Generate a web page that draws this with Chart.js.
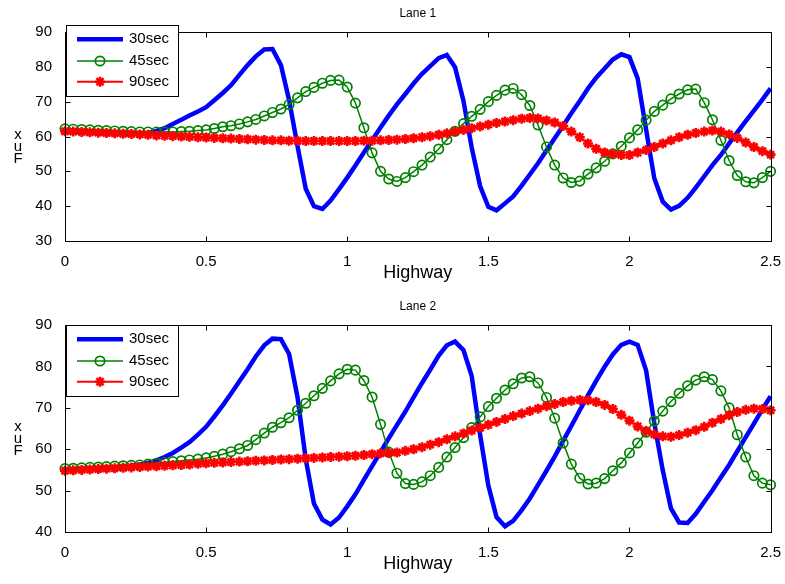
<!DOCTYPE html>
<html>
<head>
<meta charset="utf-8">
<script src="https://cdn.jsdelivr.net/npm/chart.js@4.4.0/dist/chart.umd.min.js"></script>
<style>
  html, body { margin: 0; padding: 0; background: #fff; }
  #wrap { position: relative; width: 785px; height: 584px; }
  canvas { position: absolute; left: 0; }
</style>
</head>
<body>
<div id="wrap">
  <canvas id="lane1Chart" width="785" height="292" style="top:0"></canvas>
  <canvas id="lane2Chart" width="785" height="292" style="top:292px"></canvas>
</div>
<script>
// distance along the highway (shared by all series)
const xs = [0, 0.029, 0.059, 0.088, 0.118, 0.147, 0.176, 0.206, 0.235, 0.265,
  0.294, 0.324, 0.353, 0.382, 0.412, 0.441, 0.471, 0.5, 0.529, 0.559,
  0.588, 0.618, 0.647, 0.676, 0.706, 0.735, 0.765, 0.794, 0.824, 0.853,
  0.882, 0.912, 0.941, 0.971, 1.0, 1.029, 1.059, 1.088, 1.118, 1.147,
  1.176, 1.206, 1.235, 1.265, 1.294, 1.324, 1.353, 1.382, 1.412, 1.441,
  1.471, 1.5, 1.529, 1.559, 1.588, 1.618, 1.647, 1.676, 1.706, 1.735,
  1.765, 1.794, 1.824, 1.853, 1.882, 1.912, 1.941, 1.971, 2.0, 2.029,
  2.059, 2.088, 2.118, 2.147, 2.176, 2.206, 2.235, 2.265, 2.294, 2.324,
  2.353, 2.382, 2.412, 2.441, 2.471, 2.5];

const seriesNames = ['30sec', '45sec', '90sec'];

// Lane 1
const lane1Speed30 = [61.5, 61.4, 61.3, 61.2, 61.1, 61.0, 60.9, 60.8, 60.8, 60.8,
  61.0, 61.6, 62.4, 63.6, 64.8, 66.0, 67.2, 68.4, 70.4, 72.5,
  74.7, 77.7, 80.5, 83.0, 85.0, 85.1, 80.5, 70.5, 57.2, 45.0,
  40.0, 39.2, 41.6, 44.9, 48.2, 51.7, 55.4, 58.9, 62.6, 66.0,
  69.2, 72.2, 75.2, 78.0, 80.2, 82.5, 83.4, 79.9, 70.2, 56.8,
  45.7, 39.8, 38.8, 40.8, 42.8, 45.9, 49.1, 52.3, 56.0, 59.5,
  63.1, 66.7, 70.2, 73.8, 76.9, 79.5, 82.1, 83.6, 82.8, 76.7,
  62.0, 48.0, 41.3, 39.0, 40.1, 42.4, 45.3, 48.6, 51.8, 54.7,
  58.0, 61.2, 64.4, 67.4, 70.6, 73.8];
const lane1Speed45 = [62.2, 62.1, 62.0, 61.9, 61.8, 61.7, 61.6, 61.5, 61.4, 61.3,
  61.3, 61.3, 61.3, 61.3, 61.4, 61.5, 61.7, 61.9, 62.3, 62.8,
  63.1, 63.6, 64.2, 64.9, 65.9, 66.9, 67.9, 69.2, 71.1, 72.9,
  74.1, 75.3, 76.1, 76.2, 74.2, 69.6, 62.5, 55.3, 50.0, 47.8,
  47.1, 48.2, 49.9, 51.8, 54.1, 56.4, 59.1, 61.5, 63.7, 65.8,
  67.8, 70.0, 71.8, 73.3, 73.8, 72.0, 68.9, 63.3, 57.0, 51.8,
  48.1, 46.8, 47.2, 49.2, 51.0, 52.9, 55.0, 57.2, 59.6, 61.9,
  64.7, 67.2, 69.0, 70.8, 72.2, 73.4, 73.6, 69.7, 64.8, 58.9,
  53.1, 48.8, 47.0, 46.7, 48.2, 50.0];
const lane1Speed90 = [61.5, 61.4, 61.3, 61.2, 61.1, 61.0, 60.9, 60.8, 60.7, 60.6,
  60.5, 60.3, 60.2, 60.1, 60.0, 59.9, 59.8, 59.7, 59.6, 59.5,
  59.4, 59.3, 59.2, 59.1, 59.0, 58.9, 58.9, 58.8, 58.8, 58.7,
  58.7, 58.7, 58.7, 58.7, 58.7, 58.7, 58.8, 58.8, 58.9, 59.0,
  59.1, 59.3, 59.5, 59.8, 60.1, 60.5, 60.9, 61.4, 61.9, 62.4,
  62.9, 63.4, 63.9, 64.3, 64.7, 65.1, 65.3, 65.2, 64.6, 64.0,
  63.0, 61.4, 59.8, 58.0, 56.5, 55.4, 55.0, 54.7, 54.7, 55.4,
  56.1, 57.0, 58.0, 58.9, 59.8, 60.5, 61.0, 61.4, 61.7, 61.4,
  60.6, 59.6, 58.3, 57.0, 55.8, 54.8];

// Lane 2
const lane2Speed30 = [55.0, 55.1, 55.2, 55.3, 55.4, 55.5, 55.6, 55.8, 56.0, 56.3,
  56.7, 57.3, 58.1, 59.1, 60.4, 61.7, 63.5, 65.4, 67.9, 70.6,
  73.4, 76.4, 79.3, 82.4, 85.1, 86.7, 86.6, 83.0, 72.5, 57.6,
  46.9, 43.0, 41.8, 43.5, 46.2, 49.1, 52.6, 55.9, 59.3, 62.6,
  65.8, 69.1, 72.5, 76.0, 79.2, 82.6, 85.1, 86.0, 83.9, 77.7,
  63.4, 51.2, 43.6, 41.4, 42.7, 45.3, 48.1, 51.4, 54.8, 58.2,
  62.0, 65.6, 69.4, 73.0, 76.5, 79.9, 82.9, 85.2, 86.0, 85.2,
  79.0, 66.3, 54.9, 45.7, 42.3, 42.2, 44.4, 47.3, 50.1, 53.2,
  56.2, 59.5, 62.9, 66.2, 69.6, 72.8];
const lane2Speed45 = [55.3, 55.4, 55.5, 55.6, 55.7, 55.8, 55.9, 56.0, 56.1, 56.2,
  56.4, 56.6, 56.8, 57.0, 57.2, 57.4, 57.6, 57.9, 58.3, 58.8,
  59.4, 60.1, 60.9, 62.3, 63.9, 65.3, 66.4, 67.6, 69.4, 71.1,
  72.9, 74.7, 76.5, 78.2, 79.3, 79.1, 76.6, 72.6, 66.0, 59.3,
  54.2, 51.7, 51.5, 52.1, 53.6, 55.6, 58.1, 60.4, 62.8, 65.2,
  67.8, 70.3, 72.3, 74.3, 75.8, 77.2, 77.5, 76.0, 72.5, 67.5,
  61.5, 56.4, 53.0, 51.6, 51.8, 52.9, 54.8, 56.7, 59.1, 61.5,
  64.1, 66.8, 69.2, 71.5, 73.5, 75.3, 76.7, 77.5, 76.8, 74.1,
  70.0, 63.5, 58.1, 53.6, 51.8, 51.4];
const lane2Speed90 = [54.8, 54.9, 55.0, 55.1, 55.2, 55.3, 55.4, 55.5, 55.6, 55.7,
  55.8, 55.9, 56.0, 56.1, 56.2, 56.3, 56.5, 56.6, 56.7, 56.8,
  56.9, 57.0, 57.1, 57.2, 57.3, 57.4, 57.5, 57.6, 57.7, 57.8,
  57.9, 58.0, 58.1, 58.2, 58.3, 58.4, 58.6, 58.8, 59.0, 59.1,
  59.2, 59.6, 60.0, 60.5, 61.1, 61.7, 62.4, 63.1, 63.8, 64.5,
  65.2, 65.9, 66.6, 67.3, 68.0, 68.6, 69.2, 69.8, 70.4, 70.9,
  71.4, 71.7, 71.9, 71.8, 71.4, 70.7, 69.7, 68.3, 66.9, 65.5,
  64.4, 63.6, 63.1, 63.0, 63.4, 64.0, 64.6, 65.4, 66.4, 67.3,
  68.2, 69.0, 69.5, 69.8, 69.7, 69.4];

const xTicks = [0, 0.5, 1, 1.5, 2, 2.5];
const lane1YTicks = [30, 40, 50, 60, 70, 80, 90];
const lane2YTicks = [40, 50, 60, 70, 80, 90];

const FONT = '"Liberation Sans", Arial, Helvetica, sans-serif';
Chart.defaults.font.family = FONT;
Chart.defaults.color = '#000';

const BLUE = '#0000ff', GREEN = '#008000', RED = '#ff0000';

function pts(ys) {
  return xs.map((x, i) => ({ x: x, y: ys[i] }));
}

function drawStar(ctx, x, y, r) {
  ctx.beginPath();
  for (let k = 0; k < 4; k++) {
    const ang = k * Math.PI / 4;
    ctx.moveTo(x - Math.cos(ang) * r, y - Math.sin(ang) * r);
    ctx.lineTo(x + Math.cos(ang) * r, y + Math.sin(ang) * r);
  }
  ctx.stroke();
}

// axes box, inward ticks, title, labels and legend in MATLAB style
const matlabFrame = {
  id: 'matlabFrame',
  afterDraw(chart, args, opts) {
    const ctx = chart.ctx;
    const a = chart.chartArea;
    const sx = chart.scales.x, sy = chart.scales.y;
    const L = Math.round(a.left) + 0.5, R = Math.round(a.right) + 0.5;
    const T = Math.round(a.top) + 0.5, B = Math.round(a.bottom) + 0.5;
    ctx.save();
    ctx.strokeStyle = '#000';
    ctx.lineWidth = 1;
    ctx.strokeRect(L, T, R - L, B - T);
    const tl = 5;
    ctx.beginPath();
    sx.ticks.forEach(t => {
      const px = Math.round(sx.getPixelForValue(t.value)) + 0.5;
      ctx.moveTo(px, B); ctx.lineTo(px, B - tl);
      ctx.moveTo(px, T); ctx.lineTo(px, T + tl);
    });
    sy.ticks.forEach(t => {
      const py = Math.round(sy.getPixelForValue(t.value)) + 0.5;
      ctx.moveTo(L, py); ctx.lineTo(L + tl, py);
      ctx.moveTo(R, py); ctx.lineTo(R - tl, py);
    });
    ctx.stroke();

    const cx = (a.left + a.right) / 2;
    ctx.fillStyle = '#000';
    ctx.textAlign = 'center';
    ctx.textBaseline = 'middle';
    ctx.font = '12px ' + FONT;
    ctx.fillText(opts.title, cx, a.top - 18.5);
    ctx.font = '18px ' + FONT;
    ctx.fillText('Highway', cx, a.bottom + 32);

    const cy = (a.top + a.bottom) / 2;
    ctx.font = '15px ' + FONT;
    ctx.fillText('x', 18, cy - 2);
    ctx.fillText('u', 18, cy + 10);
    ctx.fillText('F', 18, cy + 22);

    // legend
    const lx = 66.5, ly = opts.legendTop + 0.5, lw = 112, lh = 71;
    ctx.fillStyle = '#fff';
    ctx.fillRect(lx, ly, lw, lh);
    ctx.strokeStyle = '#000';
    ctx.lineWidth = 1;
    ctx.strokeRect(lx, ly, lw, lh);
    const rows = [13.8, 35.5, 56.2];
    chart.data.datasets.forEach((ds, i) => {
      const y = ly + rows[i];
      ctx.strokeStyle = ds.borderColor;
      ctx.lineWidth = ds.borderWidth;
      ctx.beginPath();
      ctx.moveTo(77, y); ctx.lineTo(123, y);
      ctx.stroke();
      ctx.lineWidth = ds.pointBorderWidth || 1;
      if (ds.pointStyle === 'circle' && ds.pointRadius > 0) {
        ctx.beginPath();
        ctx.arc(100, y, ds.pointRadius, 0, Math.PI * 2);
        ctx.stroke();
      } else if (ds.pointStyle === 'star') {
        drawStar(ctx, 100, y, ds.pointRadius);
      }
      ctx.fillStyle = '#000';
      ctx.textAlign = 'left';
      ctx.font = '15px ' + FONT;
      ctx.fillText(ds.label, 129, y);
    });
    ctx.restore();
  }
};

function makeLaneChart(canvasId, title, s30, s45, s90, yTicks, areaTop, xAxisHeight, legendTop) {
  const ctx = document.getElementById(canvasId).getContext('2d');
  return new Chart(ctx, {
    type: 'line',
    data: {
      datasets: [
        {
          label: seriesNames[0], data: pts(s30),
          borderColor: BLUE, borderWidth: 4.5, pointRadius: 0,
          tension: 0, clip: false, order: 2
        },
        {
          label: seriesNames[1], data: pts(s45),
          borderColor: GREEN, borderWidth: 1.5,
          pointStyle: 'circle', pointRadius: 4.7, pointBorderWidth: 1.7,
          pointBorderColor: GREEN, pointBackgroundColor: 'rgba(0,0,0,0)',
          tension: 0, clip: false, order: 1
        },
        {
          label: seriesNames[2], data: pts(s90),
          borderColor: RED, borderWidth: 2,
          pointStyle: 'star', pointRadius: 5, pointBorderWidth: 2.6,
          pointBorderColor: RED, pointBackgroundColor: RED,
          tension: 0, clip: false, order: 0
        }
      ]
    },
    options: {
      responsive: false,
      animation: false,
      events: [],
      layout: { padding: { top: areaTop, right: 10, left: 0, bottom: 0 } },
      plugins: {
        legend: { display: false },
        title: { display: false },
        tooltip: { enabled: false },
        matlabFrame: { title: title, legendTop: legendTop }
      },
      scales: {
        x: {
          type: 'linear', min: 0, max: 2.5,
          afterBuildTicks: s => { s.ticks = xTicks.map(v => ({ value: v })); },
          afterFit: s => { s.height = xAxisHeight; },
          grid: { display: false },
          border: { display: false },
          ticks: {
            font: { size: 15 }, color: '#000', padding: 4, maxRotation: 0, autoSkip: false,
            callback: v => String(v)
          }
        },
        y: {
          type: 'linear', min: yTicks[0], max: yTicks[yTicks.length - 1],
          afterBuildTicks: s => { s.ticks = yTicks.map(v => ({ value: v })); },
          afterFit: s => { s.width = 65; },
          grid: { display: false },
          border: { display: false },
          ticks: { font: { size: 15 }, color: '#000', padding: 5, callback: v => String(v) }
        }
      }
    },
    plugins: [matlabFrame]
  });
}

makeLaneChart('lane1Chart', 'Lane 1', lane1Speed30, lane1Speed45, lane1Speed90, lane1YTicks, 32, 51, 25);
makeLaneChart('lane2Chart', 'Lane 2', lane2Speed30, lane2Speed45, lane2Speed90, lane2YTicks, 33, 52, 33);
</script>
</body>
</html>
